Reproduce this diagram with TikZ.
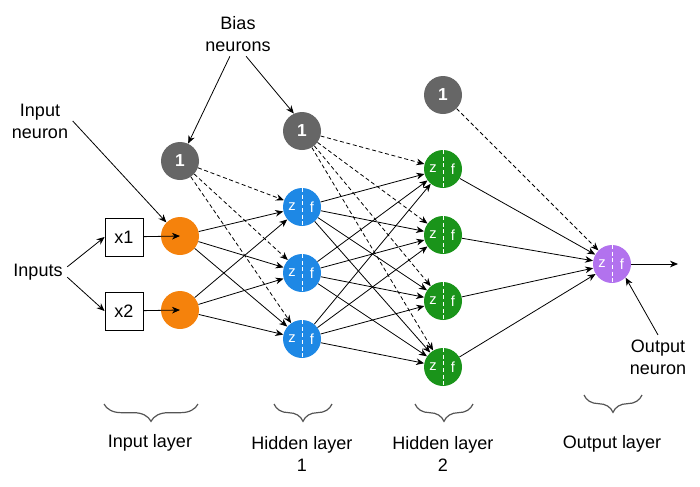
\documentclass[tikz,border=0pt]{standalone}
\usepackage{fontspec}
\setmainfont{Liberation Sans}
\usepackage{tikz}
\usetikzlibrary{arrows.meta}
\usetikzlibrary{positioning}
\usetikzlibrary{decorations.pathreplacing}
\definecolor{inputcolor}{RGB}{245,130,12}
\definecolor{hiddenonecolor}{RGB}{30,136,229}
\definecolor{hiddentwocolor}{RGB}{26,148,26}
\definecolor{outputcolor}{RGB}{178,114,238}
\definecolor{biascolor}{RGB}{102,102,102}
\definecolor{bracecolor}{RGB}{85,85,85}

\tikzset{
  neuron/.style={circle, fill=#1, draw=none, minimum size=28.5pt, inner sep=0pt},
  zfneuron/.style={neuron=#1, path picture={
      \draw[white, densely dashed, line width=0.6pt] (path picture bounding box.north) -- (path picture bounding box.south);
      \node[text=white, font=\fontsize{11}{11}\selectfont] at ([xshift=-7.5pt]path picture bounding box.center) {z};
      \node[text=white, font=\fontsize{11}{11}\selectfont] at ([xshift=7.5pt]path picture bounding box.center) {f};
    }},
  biasneuron/.style={neuron=biascolor, text=white, font=\fontsize{13}{13}\selectfont\bfseries},
  inbox/.style={draw, line width=0.6pt, minimum size=28.5pt, inner sep=0pt, font=\fontsize{13.5}{16}\selectfont},
  label/.style={align=center, font=\fontsize{13.5}{16.5}\selectfont},
  conn/.style={-{Stealth[length=6pt,width=5pt]}, line width=0.6pt},
  biasconn/.style={conn, densely dashed},
  layerbrace/.style={decorate, decoration={brace, mirror, amplitude=13pt}, bracecolor, line width=0.9pt}
}

\begin{document}
\begin{tikzpicture}[x=0.75pt, y=-0.75pt]
\useasboundingbox (0,0) rectangle (700,486);

% texts
\node[label] (biastext) at (238,34) {Bias\\neurons};
\node[label] (inneurontext) at (40,121) {Input\\neuron};
\node[label] (inputstext) at (38,272) {Inputs};
\node[label] (outneurontext) at (658,357) {Output\\neuron};

% neurons
\node[inbox] (x1) at (124,237) {x1};
\node[inbox] (x2) at (124,311) {x2};
\node[neuron=inputcolor] (in1) at (180,236) {};
\node[neuron=inputcolor] (in2) at (180,310) {};
\node[biasneuron] (b1) at (180,161) {1};
\node[biasneuron] (b2) at (302,131) {1};
\node[biasneuron] (b3) at (443,95) {1};
\node[zfneuron=hiddenonecolor] (h1) at (302,207) {};
\node[zfneuron=hiddenonecolor] (h2) at (302,273) {};
\node[zfneuron=hiddenonecolor] (h3) at (302,339) {};
\node[zfneuron=hiddentwocolor] (g1) at (443,169) {};
\node[zfneuron=hiddentwocolor] (g2) at (443,235) {};
\node[zfneuron=hiddentwocolor] (g3) at (443,301) {};
\node[zfneuron=hiddentwocolor] (g4) at (443,367) {};
\node[zfneuron=outputcolor] (out) at (612,264) {};
\coordinate (outend) at (678,264);

% annotations
\draw[conn] (biastext.250) -- (b1.65);
\draw[conn] (biastext.290) -- (b2.115);
\draw[conn] (inneurontext.east) -- (in1.135);
\draw[conn] (inputstext.10) -- (x1.west);
\draw[conn] (inputstext.-10) -- (x2.west);
\draw[conn] (outneurontext.north) -- (out.-45);

% input layer
\draw[conn] (x1) -- (in1.center);
\draw[conn] (x2) -- (in2.center);
\draw[conn] (in1) -- (h1);
\draw[conn] (in1) -- (h2);
\draw[conn] (in1) -- (h3);
\draw[conn] (in2) -- (h1);
\draw[conn] (in2) -- (h2);
\draw[conn] (in2) -- (h3);
\draw[biasconn] (b1) -- (h1);
\draw[biasconn] (b1) -- (h2);
\draw[biasconn] (b1) -- (h3);

% hidden layer 1
\draw[conn] (h1) -- (g1);
\draw[conn] (h1) -- (g2);
\draw[conn] (h1) -- (g3);
\draw[conn] (h1) -- (g4);
\draw[conn] (h2) -- (g1);
\draw[conn] (h2) -- (g2);
\draw[conn] (h2) -- (g3);
\draw[conn] (h2) -- (g4);
\draw[conn] (h3) -- (g1);
\draw[conn] (h3) -- (g2);
\draw[conn] (h3) -- (g3);
\draw[conn] (h3) -- (g4);
\draw[biasconn] (b2) -- (g1);
\draw[biasconn] (b2) -- (g2);
\draw[biasconn] (b2) -- (g3);
\draw[biasconn] (b2) -- (g4);

% hidden layer 2
\draw[conn] (g1) -- (out);
\draw[conn] (g2) -- (out);
\draw[conn] (g3) -- (out);
\draw[conn] (g4) -- (out);
\draw[biasconn] (b3) -- (out);
\draw[conn] (out) -- (outend);

% layers
\draw[layerbrace] (104,404) -- (198,404);
\draw[layerbrace] (274,404) -- (332,404);
\draw[layerbrace] (415,404) -- (473,404);
\draw[layerbrace] (584,395) -- (642,395);
\node[label] (inlayer) at (150,443) {Input layer};
\node[label] (hidlayerone) at (302,454) {Hidden layer\\1};
\node[label] (hidlayertwo) at (443,454) {Hidden layer\\2};
\node[label] (outlayer) at (612,444) {Output layer};
\end{tikzpicture}
\end{document}
